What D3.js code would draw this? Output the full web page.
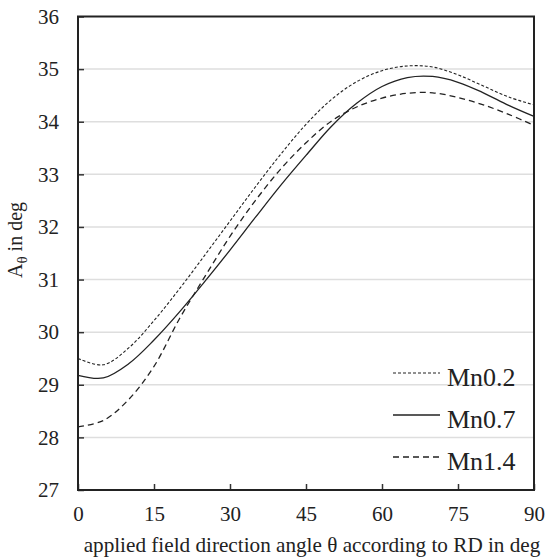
<!DOCTYPE html>
<html>
<head>
<meta charset="utf-8">
<script src="https://cdn.jsdelivr.net/npm/d3@7"></script>
<style>
  body { margin: 0; background: #fff; }
  svg text { font-family: "Liberation Serif", "Times New Roman", serif; fill: #222; }
</style>
</head>
<body>
<svg id="chart" width="545" height="560"></svg>
<script>
const angles = [0, 5, 10, 15, 20, 25, 30, 35, 40, 45, 50, 55, 60, 65, 70, 75, 80, 85, 90];
const mn02 = [29.50, 29.38, 29.70, 30.22, 30.82, 31.46, 32.11, 32.76, 33.38, 33.95, 34.42, 34.76, 34.97, 35.06, 35.04, 34.89, 34.68, 34.47, 34.32];
const mn07 = [29.18, 29.13, 29.40, 29.85, 30.38, 30.96, 31.56, 32.18, 32.79, 33.36, 33.91, 34.35, 34.67, 34.84, 34.86, 34.75, 34.55, 34.31, 34.10];
const mn14 = [28.20, 28.32, 28.72, 29.35, 30.25, 31.05, 31.82, 32.50, 33.10, 33.60, 34.01, 34.28, 34.45, 34.54, 34.55, 34.46, 34.32, 34.14, 33.93];
const xTicks = [0, 15, 30, 45, 60, 75, 90];
const yTicks = [27, 28, 29, 30, 31, 32, 33, 34, 35, 36];

const series = [
  { name: "Mn0.2", values: mn02, dash: "3,2", width: 1.1 },
  { name: "Mn0.7", values: mn07, dash: null, width: 1.3 },
  { name: "Mn1.4", values: mn14, dash: "6,4", width: 1.3 }
];

const serif = '"Liberation Serif", "Times New Roman", serif';

const margin = { top: 16.5, right: 11, bottom: 70, left: 78 };
const width = 545 - margin.left - margin.right;
const height = 560 - margin.top - margin.bottom;

const svg = d3.select("#chart");
const g = svg.append("g").attr("transform", `translate(${margin.left},${margin.top})`);

const x = d3.scaleLinear().domain([0, 90]).range([0, width]);
const y = d3.scaleLinear().domain([27, 36]).range([height, 0]);

// grid lines
g.selectAll(".grid")
  .data(yTicks.filter(d => d > 27 && d < 36))
  .enter().append("line")
  .attr("x1", 0).attr("x2", width)
  .attr("y1", d => y(d)).attr("y2", d => y(d))
  .attr("stroke", "#dedede")
  .attr("stroke-width", 1.5);

// axes, ticks pointing inwards
const xAxis = d3.axisBottom(x).tickValues(xTicks).tickSize(-6).tickPadding(16);
const yAxis = d3.axisLeft(y).tickValues(yTicks).tickSize(-6).tickPadding(19);

const gx = g.append("g").attr("transform", `translate(0,${height})`).call(xAxis);
const gy = g.append("g").call(yAxis);
[gx, gy].forEach(a => {
  a.attr("font-family", serif).attr("font-size", 21);
  a.select(".domain").remove();
  a.selectAll("line").attr("stroke", "#333").attr("stroke-width", 1.5);
  a.selectAll("text").attr("fill", "#222");
});

// frame
g.append("rect")
  .attr("width", width).attr("height", height)
  .attr("fill", "none").attr("stroke", "#222").attr("stroke-width", 2);

const line = d3.line()
  .x((d, i) => x(angles[i]))
  .y(d => y(d))
  .curve(d3.curveCatmullRom.alpha(0.5));

g.selectAll(".series")
  .data(series)
  .enter().append("path")
  .attr("d", d => line(d.values))
  .attr("fill", "none")
  .attr("stroke", "#222")
  .attr("stroke-width", d => d.width)
  .attr("stroke-dasharray", d => d.dash);

// legend
const legend = g.append("g").attr("transform", `translate(${393 - margin.left},${373 - margin.top})`);
series.forEach((s, i) => {
  legend.append("line")
    .attr("x1", 0).attr("x2", 47)
    .attr("y1", i * 42).attr("y2", i * 42)
    .attr("stroke", "#222")
    .attr("stroke-width", s.width)
    .attr("stroke-dasharray", s.dash);
  legend.append("text")
    .attr("x", 54).attr("y", i * 42 + 13)
    .attr("font-family", serif)
    .attr("font-size", 26)
    .text(s.name);
});

// axis labels
svg.append("text")
  .attr("x", 312)
  .attr("y", 552)
  .attr("text-anchor", "middle")
  .attr("font-family", serif)
  .attr("font-size", 21.2)
  .text("applied field direction angle θ according to RD in deg");

const yl = svg.append("text")
  .attr("transform", "translate(22,240) rotate(-90)")
  .attr("text-anchor", "middle")
  .attr("font-family", serif)
  .attr("font-size", 20);
yl.append("tspan").text("A");
yl.append("tspan").attr("dy", 5).attr("font-size", 15).text("θ");
yl.append("tspan").attr("dy", -5).text(" in deg");
</script>
</body>
</html>
